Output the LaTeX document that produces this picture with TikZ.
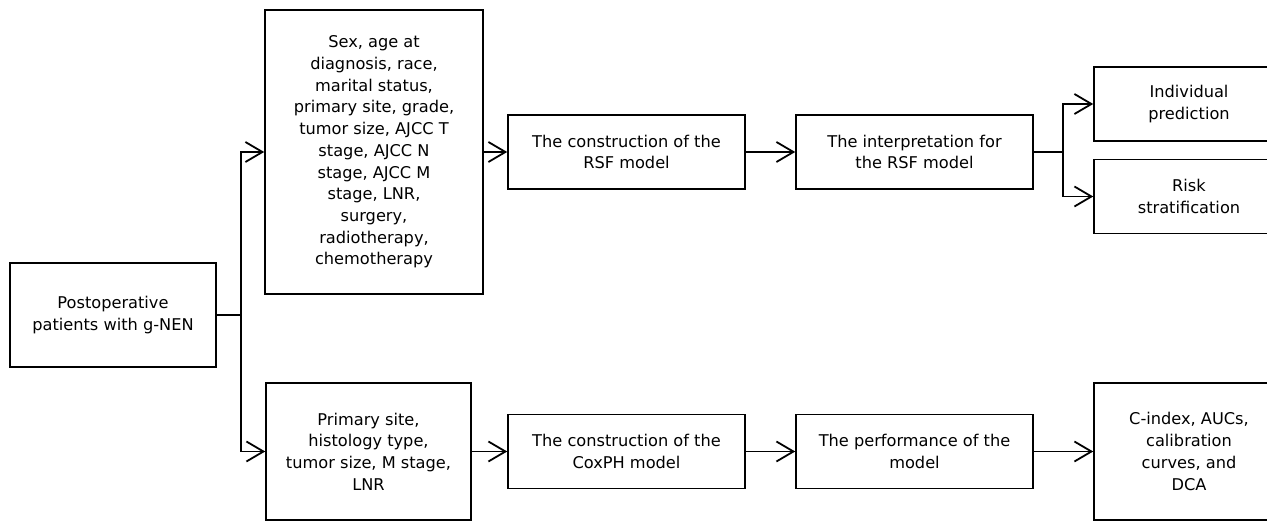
\documentclass[tikz,border=0pt]{standalone}
\usepackage{fontspec}
\setmainfont{DejaVu Sans}
\usetikzlibrary{positioning,arrows.meta}

\begin{document}
\begin{tikzpicture}[
    stepbox/.style={rectangle,draw,thick,align=center,inner sep=2pt,
		font=\fontsize{8.1}{10.85}\selectfont},
    modelbox/.style={stepbox,minimum width=118.5pt,minimum height=37pt},
    outbox/.style={stepbox,minimum width=95pt,minimum height=37pt},
% Arrow style
    >={Straight Barb[length=8.5pt,width=10pt]},
    every path/.style={line width=0.9pt}
    ]
   \useasboundingbox (0,0) rectangle (633.5pt,-261pt);
%%% Draw study flow diagram
   \begin{scope}[on grid]
      \node [stepbox, minimum width=103pt, minimum height=52pt] (start)
        at (56.5pt,-157.5pt) {Postoperative\\patients with g-NEN};
      \node [stepbox, minimum width=109pt, minimum height=142pt]
        [above right=81.5pt and 130.5pt of start] (rsfvars)
        {Sex, age at\\diagnosis, race,\\marital status,\\primary site, grade,\\
         tumor size, AJCC T\\stage, AJCC N\\stage, AJCC M\\stage, LNR,\\
         surgery,\\radiotherapy,\\chemotherapy};
      \node [stepbox, minimum width=102.5pt, minimum height=68.5pt]
        [below right=68.25pt and 127.75pt of start] (coxvars)
        {Primary site,\\histology type,\\tumor size, M stage,\\LNR};

      \node [modelbox] [right=126.25pt of rsfvars] (rsf)
        {The construction of the\\RSF model};
      \node [modelbox] [right=144pt of rsf] (interp)
        {The interpretation for\\the RSF model};
      \node [modelbox] [below=149.75pt of rsf] (cox)
        {The construction of the\\CoxPH model};
      \node [modelbox] [right=144pt of cox] (perf)
        {The performance of the\\model};

      \node [outbox] [above right=24pt and 137.25pt of interp] (indiv)
        {Individual\\prediction};
      \node [outbox] [below right=22.25pt and 137.25pt of interp] (risk)
        {Risk\\stratification};
      \node [outbox, minimum height=68.5pt] [right=137.25pt of perf] (cindex)
        {C-index, AUCs,\\calibration\\curves, and\\DCA};
   \end{scope}

   \coordinate (split) at (120.5pt,-157.5pt);
   \coordinate (branch) at (531.5pt,-76pt);

   \draw (start.east) -- (split);
   \draw [->] (split) |- (rsfvars.west);
   \draw [->] (split) |- (coxvars.west);

   \draw [->] (rsfvars) -- (rsf);
   \draw [->] (rsf) -- (interp);
   \draw (interp.east) -- (branch);
   \draw [->] (branch) |- (indiv.west);
   \draw [->] (branch) |- (risk.west);

   \draw [->] (coxvars) -- (cox);
   \draw [->] (cox) -- (perf);
   \draw [->] (perf) -- (cindex);
\end{tikzpicture}
\end{document}
